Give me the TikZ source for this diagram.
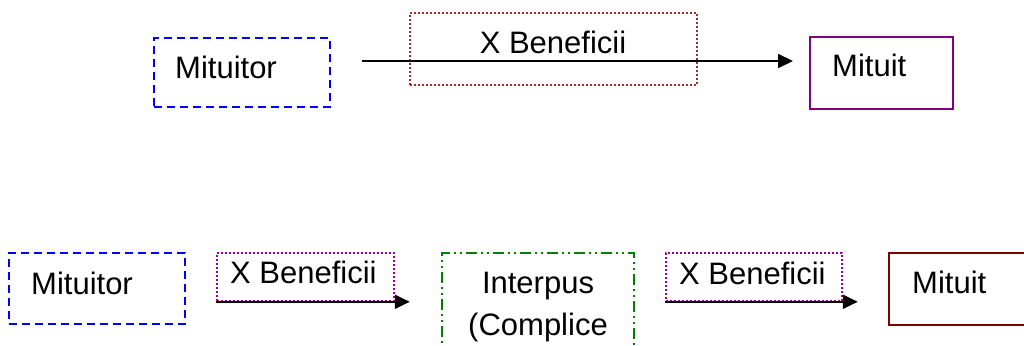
\documentclass[tikz,border=0pt]{standalone}
\usepackage{fontspec}
\setmainfont{Liberation Sans}
\usetikzlibrary{arrows.meta,calc}
\definecolor{cblue}{RGB}{0,0,255}
\definecolor{cbrick}{RGB}{160,48,48}
\definecolor{cpurple}{RGB}{128,0,128}
\definecolor{cmagenta}{RGB}{153,0,153}
\definecolor{cgreen}{RGB}{0,128,0}
\definecolor{cmaroon}{RGB}{128,0,0}
\tikzset{
  box/.style={draw, line width=2pt, inner sep=0pt, fill=none},
  bluebox/.style={box, draw=cblue, dash pattern=on 8pt off 5pt},
  dotbox/.style={draw, line width=1.6pt, inner sep=0pt, dash pattern=on 1.6pt off 2.4pt},
  greenbox/.style={box, draw=cgreen, dash pattern=on 11pt off 4pt on 2pt off 4pt on 2pt off 4pt},
  lbl/.style={font=\fontsize{31}{42}\selectfont, inner sep=0pt},
  arr/.style={line width=2pt, -{Triangle[length=15pt,width=14pt]}},
}
\begin{document}
\begin{tikzpicture}[x=1pt,y=-1pt]
\useasboundingbox (0,0) rectangle (1024,345);
\clip (0,0) rectangle (1024,345);
% top row
\node[bluebox, minimum width=176pt, minimum height=69pt] (m1) at (242,72.5) {};
\node[lbl, anchor=base west] (m1t) at (175,78) {Mituitor};
\node[dotbox, draw=cbrick, minimum width=287pt, minimum height=72pt] (b0) at (553.5,49) {};
\node[lbl, anchor=base] (b0t) at (553,53) {X Beneficii};
\node[box, draw=cpurple, minimum width=143pt, minimum height=72pt] (d1) at (881.5,73) {};
\node[lbl, anchor=base west] (d1t) at (832,77) {Mituit};
\coordinate (a0s) at (362,61);
\coordinate (a0e) at (793,61);
\draw[arr] (a0s) -- (a0e);
% bottom row
\node[bluebox, minimum width=176pt, minimum height=71pt] (m2) at (97,288.5) {};
\node[lbl, anchor=base west] (m2t) at (31,294) {Mituitor};
\node[dotbox, draw=cmagenta, minimum width=177pt, minimum height=48pt] (b1) at (305.5,277) {};
\node[lbl, anchor=base west] (b1t) at (230,283) {X Beneficii};
\node[greenbox, minimum width=192pt, minimum height=110pt] (ip) at (538,308) {};
\node[lbl, anchor=base, align=center] (ipt) at (538,293) {Interpus};
\node[lbl, anchor=base] (ipt2) at (538,335) {(Complice};
\node[dotbox, draw=cmagenta, minimum width=176pt, minimum height=48pt] (b2) at (754,277) {};
\node[lbl, anchor=base west] (b2t) at (679,284) {X Beneficii};
\node[box, draw=cmaroon, minimum width=150pt, minimum height=72pt] (d2) at (964,289) {};
\node[lbl, anchor=base west] (d2t) at (912,293) {Mituit};
\draw[arr] (b1.south west) -- ($(b1.south east)+(15,0)$);
\draw[arr] (b2.south west) -- ($(b2.south east)+(15,0)$);
\end{tikzpicture}
\end{document}
